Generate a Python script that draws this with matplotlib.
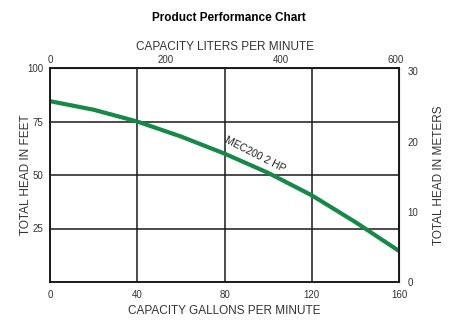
import matplotlib.pyplot as plt

# pump curve: capacity (US gal/min) vs total head (ft)
gpm = [0, 20, 40, 60, 80, 100, 120, 140, 160]
head_ft = [84.5, 80.5, 75, 68, 60, 51, 40.5, 28, 14.5]

gpm_ticks = [0, 40, 80, 120, 160]
lpm_ticks = [0, 200, 400, 600]
ft_ticks = [25, 50, 75, 100]
m_ticks = [0, 10, 20, 30]

GAL_L = 3.785
FT_M = 0.3048

plt.rcParams['font.family'] = ['Liberation Sans', 'DejaVu Sans']

fig = plt.figure(figsize=(4.58, 3.30), dpi=100)
ax = fig.add_axes([50/458, 1-282/330, 349/458, 214/330])

ax.plot(gpm, head_ft, color='#16894a', lw=3.0, solid_capstyle='butt')
ax.set_xlim(0, 160)
ax.set_ylim(0, 100)

ax.set_xticks(gpm_ticks)
ax.set_yticks(ft_ticks)
ax.grid(True, color='#1a1a1a', lw=1.1)
ax.tick_params(length=0, labelsize=7, colors='#333333', pad=5)
ax.tick_params(axis='x', pad=6)
for s in ax.spines.values():
    s.set_linewidth(1.4)
    s.set_color('#1a1a1a')

ax.set_xlabel('CAPACITY GALLONS PER MINUTE', fontsize=8.5, color='#333333', labelpad=3)
ax.set_ylabel('TOTAL HEAD IN FEET', fontsize=8.5, color='#333333', labelpad=-4)

# metric axes
top = ax.secondary_xaxis('top', functions=(lambda g: g*GAL_L, lambda l: l/GAL_L))
top.set_xticks(lpm_ticks)
top.tick_params(length=0, labelsize=7, colors='#333333', pad=2)
top.set_xlabel('CAPACITY LITERS PER MINUTE', fontsize=8.5, color='#333333', labelpad=4)

right = ax.secondary_yaxis('right', functions=(lambda f: f*FT_M, lambda m: m/FT_M))
right.set_yticks(m_ticks)
right.tick_params(length=0, labelsize=7, colors='#333333', pad=6)
right.set_ylabel('TOTAL HEAD IN METERS', fontsize=8.5, color='#333333', labelpad=11)

ax.text(94, 59.5, 'MEC200 2 HP', rotation=-27, fontsize=7.5, color='#222222',
        ha='center', va='center', rotation_mode='anchor')

fig.text(0.5, 1-18/330, 'Product Performance Chart', ha='center', va='center',
         fontsize=8.5, fontweight='bold')

fig.savefig('out.png', dpi=100)
